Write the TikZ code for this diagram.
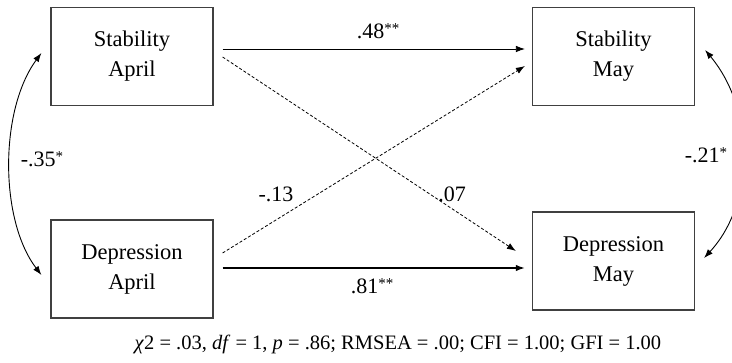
\documentclass[tikz,border=0pt]{standalone}
\usepackage{fontspec}
\setmainfont{Liberation Serif}
\usetikzlibrary{arrows.meta,calc}
\newcommand{\sigstar}[1]{{\fontsize{15}{15}\selectfont\raisebox{5pt}{#1}}}
\begin{document}
\begin{tikzpicture}[x=1pt,y=-1pt,
  box/.style={draw=black!75, line width=1.2pt, minimum width=162pt, minimum height=98pt,
    inner sep=0pt, align=center, font=\fontsize{22.5}{30}\selectfont},
  lbl/.style={font=\fontsize{22}{26}\selectfont, inner sep=0pt},
  arr/.style={line width=0.8pt, -{Latex[length=9pt,width=6.5pt]}},
  thick arr/.style={line width=1.6pt, -{Latex[length=9pt,width=6.5pt]}},
  dsh/.style={arr, dash pattern=on 3pt off 2pt},
  cov/.style={line width=0.9pt, {Latex[length=9pt,width=6.5pt]}-{Latex[length=9pt,width=6.5pt]}}]
\useasboundingbox (0,0) rectangle (732,363);

\node[box] (SA) at (132,56.5) {Stability\\April};
\node[box] (SM) at (613.5,56.5) {Stability\\May};
\node[box] (DA) at (132,269) {Depression\\April};
\node[box] (DM) at (613.5,261) {Depression\\May};

\coordinate (SAa) at ($(SA.east)+(9,-7.5)$);
\coordinate (SMa) at ($(SM.west)+(-7,-7.5)$);
\coordinate (SAb) at ($(SA.east)+(9,0.5)$);
\coordinate (DMb) at ($(DM.west)+(-16,-10)$);
\coordinate (DAb) at ($(DA.east)+(9,-16)$);
\coordinate (SMb) at ($(SM.west)+(-7,9.5)$);
\coordinate (DAa) at ($(DA.east)+(9,-1)$);
\coordinate (DMa) at ($(DM.west)+(-7,7)$);

\draw[arr] (SAa) -- (SMa);
\draw[dsh] (SAb) -- (DMb);
\draw[dsh] (DAb) -- (SMb);
\draw[thick arr] (DAa) -- (DMa);

\coordinate (SAc) at ($(SA.west)+(-9,-3.5)$);
\coordinate (DAc) at ($(DA.west)+(-9,6)$);
\coordinate (SMc) at ($(SM.east)+(10,-6.5)$);
\coordinate (DMc) at ($(DM.east)+(9,-3)$);

\draw[cov] (SAc) .. controls +(-42,57) and +(-42,-55) .. (DAc);
\draw[cov] (SMc) .. controls +(50,60) and +(51,-55) .. (DMc);

\node[lbl, anchor=base] (l48) at (378,39) {.48\sigstar{**}};
\node[lbl, anchor=base] (l81) at (372,294) {.81\sigstar{**}};
\node[lbl] (l13) at (276,194) {-.13};
\node[lbl] (l07) at (452,194) {.07};
\node[lbl, anchor=base] (l35) at (42,167) {-.35\sigstar{*}};
\node[lbl, anchor=base] (l21) at (706,163) {-.21\sigstar{*}};

\node[font=\fontsize{20.5}{24}\selectfont, inner sep=0pt] (fit) at (398,344)
  {\textit{χ}2 = .03, \textit{df} = 1, \textit{p} = .86; RMSEA = .00; CFI = 1.00; GFI = 1.00};
\end{tikzpicture}
\end{document}
